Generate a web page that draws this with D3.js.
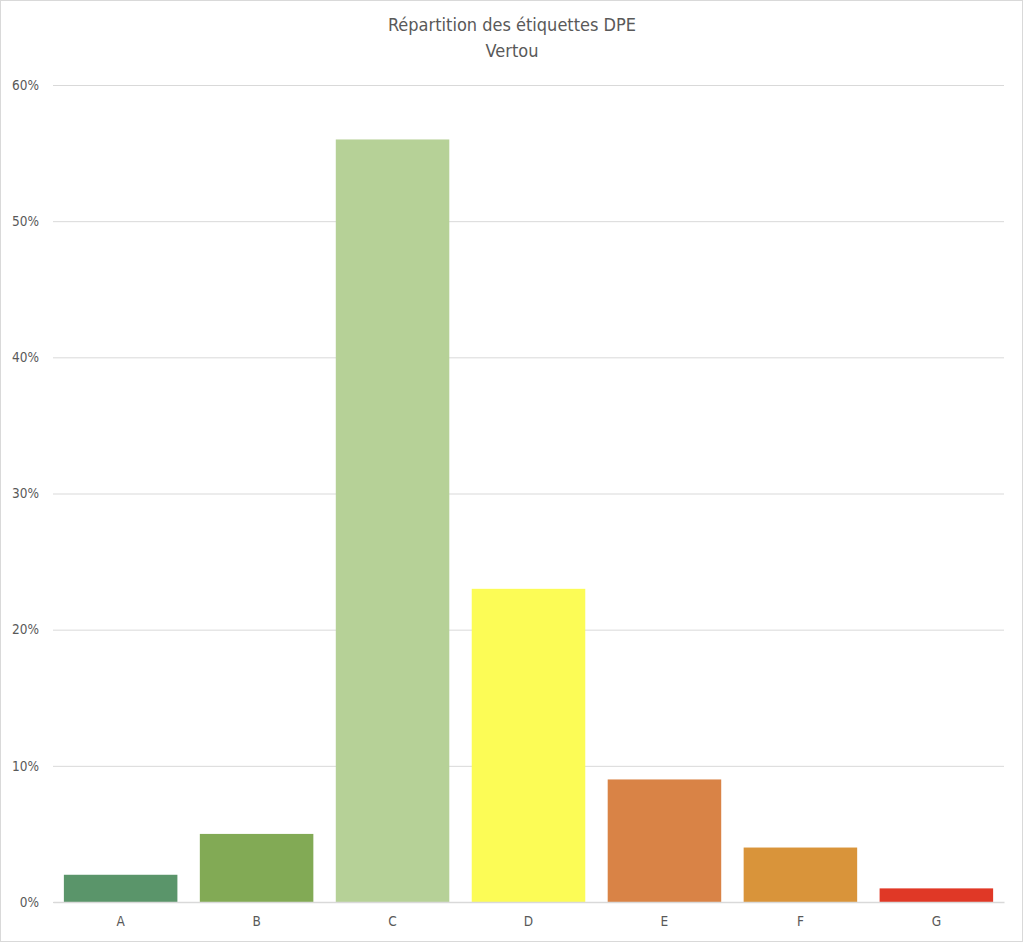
<!DOCTYPE html>
<html>
<head>
<meta charset="utf-8">
<script src="https://cdn.jsdelivr.net/npm/d3@7"></script>
<style>
  body { margin: 0; background: #fff; }
  text { font-family: "DejaVu Sans Condensed", "Liberation Sans", sans-serif; fill: #595959; }
</style>
</head>
<body>
<svg width="1024" height="943"></svg>
<script>
var categories = ["A", "B", "C", "D", "E", "F", "G"];
var shares = [0.02, 0.05, 0.56, 0.23, 0.09, 0.04, 0.01];
var barColors = ["#5a956a", "#82aa55", "#b6d197", "#fcfc56", "#d98346", "#d9943a", "#e03826"];
var yTicks = [0, 0.1, 0.2, 0.3, 0.4, 0.5, 0.6];
var titleLines = ["Répartition des étiquettes DPE", "Vertou"];

var svg = d3.select("svg"),
    width = +svg.attr("width"),
    height = +svg.attr("height");

// chart border
svg.append("rect")
    .attr("x", 0.5).attr("y", 0.5)
    .attr("width", width - 2).attr("height", height - 2)
    .attr("fill", "#fff")
    .attr("stroke", "#d9d9d9");

var plotLeft = 53, plotRight = 1004, plotTop = 85, plotBottom = 902;

var x = d3.scaleBand()
    .domain(categories)
    .range([plotLeft, plotRight])
    .paddingInner(0.165)
    .paddingOuter(0.08);

var y = d3.scaleLinear()
    .domain([0, 0.6])
    .range([plotBottom, plotTop]);

// gridlines
var yAxis = svg.append("g")
    .attr("transform", "translate(" + plotLeft + ",0)")
    .call(d3.axisLeft(y).tickValues(yTicks).tickFormat(d3.format(".0%"))
        .tickSize(-(plotRight - plotLeft)).tickPadding(14));
yAxis.select(".domain").remove();
yAxis.selectAll("line").attr("stroke", "#d9d9d9").attr("stroke-width", 1);
yAxis.selectAll("text").attr("font-size", 13.5).style("fill", "#595959");

// bars
svg.append("g")
    .selectAll("rect")
    .data(shares)
    .enter().append("rect")
    .attr("x", function (d, i) { return x(categories[i]); })
    .attr("y", function (d) { return y(d); })
    .attr("width", x.bandwidth())
    .attr("height", function (d) { return y(0) - y(d); })
    .attr("fill", function (d, i) { return barColors[i]; });

// x axis
var xAxis = svg.append("g")
    .attr("transform", "translate(0," + plotBottom + ")")
    .call(d3.axisBottom(x).tickSize(0).tickPadding(14));
xAxis.select(".domain").attr("stroke", "#d9d9d9").attr("stroke-width", 1.5);
xAxis.selectAll("text").attr("font-size", 13.5).style("fill", "#595959");

// title
svg.append("g")
    .selectAll("text")
    .data(titleLines)
    .enter().append("text")
    .attr("x", 512)
    .attr("y", function (d, i) { return 31 + i * 26; })
    .attr("text-anchor", "middle")
    .attr("font-size", 18)
    .text(function (d) { return d; });
</script>
</body>
</html>
